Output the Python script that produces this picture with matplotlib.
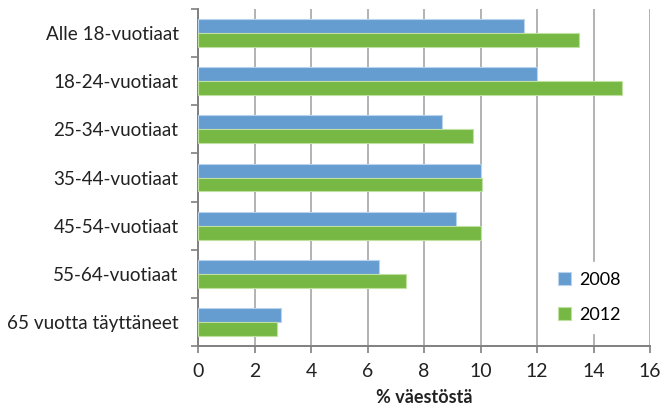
import matplotlib
matplotlib.use('Agg')
from matplotlib import pyplot as plt
import numpy as np

plt.rcParams['font.family'] = ['Lato', 'DejaVu Sans']

# categories, top to bottom
categories = ['Alle 18-vuotiaat', '18-24-vuotiaat', '25-34-vuotiaat', '35-44-vuotiaat',
              '45-54-vuotiaat', '55-64-vuotiaat', '65 vuotta täyttäneet']
values_2008 = [11.55, 12.0, 8.65, 10.0, 9.15, 6.4, 2.95]
values_2012 = [13.5, 15.0, 9.75, 10.05, 10.0, 7.35, 2.8]
xticks = [0, 2, 4, 6, 8, 10, 12, 14, 16]

fig = plt.figure(figsize=(6.61, 4.09), dpi=100)
ax = fig.add_axes([198 / 661, 1 - 346 / 409, 452 / 661, 337 / 409])

n = len(categories)
y = np.arange(n)[::-1]
h = 0.29
ax.barh(y + h / 2, values_2008, height=h, color='#659dd1', edgecolor='#b9d3ec',
        linewidth=0.8, label='2008', zorder=3)
ax.barh(y - h / 2, values_2012, height=h, color='#76b843', edgecolor='#bfe0a0',
        linewidth=0.8, label='2012', zorder=3)

ax.set_xlim(0, 16)
ax.set_ylim(-0.5, n - 0.5)
ax.set_xticks(xticks)
ax.set_xticklabels([str(t) for t in xticks], fontsize=14, color='#222222')
ax.set_yticks(y)
ax.set_yticklabels(categories, fontsize=13.6, color='#222222')
ax.tick_params(axis='y', length=0, pad=14)
ax.set_yticks(np.arange(-0.5, n, 1), minor=True)
ax.tick_params(axis='y', which='minor', length=5, color='#808080', width=1.2)
ax.tick_params(axis='x', length=5, color='#808080', width=1.2, direction='out', pad=7)

ax.grid(axis='x', color='#a6a6a6', linewidth=1.2, zorder=0)
for side in ['top', 'right']:
    ax.spines[side].set_visible(False)
for side in ['left', 'bottom']:
    ax.spines[side].set_color('#808080')
    ax.spines[side].set_linewidth(1.4)

ax.set_xlabel('% väestöstä', fontsize=13, fontweight='bold', color='#222222', labelpad=7)

leg = ax.legend(loc='upper left', bbox_to_anchor=(548 / 661, 1 - 262 / 409),
                bbox_transform=fig.transFigure, frameon=True, fontsize=13,
                handlelength=0.75, handleheight=0.75, handletextpad=0.45, labelspacing=1.05,
                borderpad=0.55, borderaxespad=0)
leg.get_frame().set_facecolor('white')
leg.get_frame().set_edgecolor('white')
leg.get_frame().set_alpha(1)
leg.set_zorder(5)

fig.savefig('out.png', dpi=100)
